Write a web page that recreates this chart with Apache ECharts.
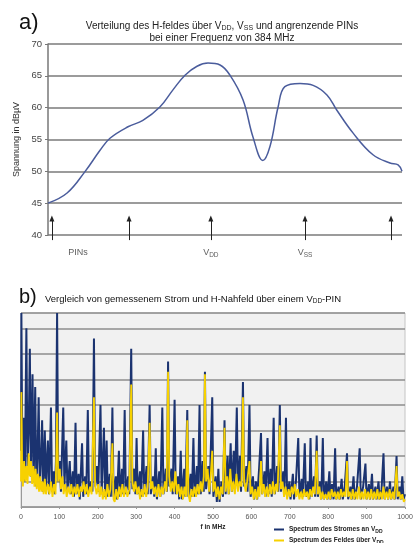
<!DOCTYPE html>
<html>
<head>
<meta charset="utf-8">
<script src="https://cdn.jsdelivr.net/npm/echarts@6/dist/echarts.min.js"></script>
<style>
html,body{margin:0;padding:0;background:#fff;}
#main{width:416px;height:543px;}
</style>
</head>
<body>
<div id="main"></div>
<script>
// a) Feldverteilung: x = Position (0..100), y = Spannung in dBµV
var feldKurve = [
  [0,45],[5.4,46.6],[10.5,50],[14.7,53.3],[17.5,55.2],[22.6,57.0],[26.8,58.0],
  [31.6,60.1],[35.3,62.8],[38.7,65.1],[42.1,66.5],[45.2,67.0],[48.6,66.7],
  [51.4,65.1],[55.1,61.2],[57.9,55.4],[60.7,51.7],[62.7,53.9],[65.0,60.1],
  [66.9,63.3],[71.2,63.8],[74.9,63.5],[78.8,62.0],[81.6,59.6],[86.2,56.0],
  [91.8,52.6],[96.6,51.3],[98.9,51.0],[100,50.0]
];
var pfeilX = [1.1, 22.9, 46.0, 72.6, 96.9];
var pinLabels = [
  {x: 8.5, text: 'PINs'},
  {x: 46.0, text: 'V{s|DD}'},
  {x: 72.6, text: 'V{s|SS}'}
];
var yTicksA = [40, 70, 5];

// b) Spektren: [f in MHz, Pegel]
var stromSpektrum = [
[0,2.2],[1,7.6],[3,3.0],[5,1.2],[8,3.5],[10,1.0],[14,7.0],[17,1.5],[20,3.0],[23,6.2],[26,1.2],[30,5.2],[33,1.0],[37,4.7],[40,0.8],[43,2.0],[46,4.3],[49,0.7],[52,1.8],[55,3.4],[58,0.6],[62,3.0],[65,0.7],[67,1.6],[70,2.6],[73,0.5],[78,3.9],[81,0.6],[85,1.4],[88,0.5],[91,1.8],[94,7.6],[97,1.0],[101,1.8],[104,0.6],[110,3.9],[113,0.8],[118,2.6],[121,0.6],[124,1.2],[127,1.8],[130,0.5],[135,1.4],[138,0.4],[142,3.3],[145,0.5],[150,1.3],[153,0.3],[159,2.5],[162,0.4],[167,1.2],[170,0.5],[174,3.8],[177,0.6],[183,1.0],[186,0.6],[190,6.6],[193,0.8],[198,1.6],[201,0.6],[207,4.0],[210,0.5],[216,3.1],[219,0.4],[223,2.6],[226,0.4],[231,1.3],[234,0.4],[238,3.9],[241,0.4],[247,1.2],[250,0.3],[255,2.2],[258,0.4],[263,1.5],[266,0.5],[270,3.8],[273,0.5],[279,1.2],[282,0.5],[287,6.2],[290,0.7],[295,1.5],[298,0.5],[301,2.7],[304,0.5],[310,1.4],[313,0.4],[318,3.0],[321,0.5],[327,1.6],[330,0.5],[335,4.0],[338,0.5],[344,1.2],[347,0.4],[351,2.3],[354,0.3],[360,1.4],[363,0.4],[368,3.9],[371,0.5],[377,1.5],[380,0.6],[383,5.7],[386,0.8],[392,1.5],[395,0.5],[400,4.2],[403,0.5],[409,1.2],[412,0.3],[416,2.2],[419,0.3],[425,1.5],[428,0.4],[433,3.8],[436,0.4],[442,1.3],[445,0.4],[449,2.7],[452,0.4],[458,1.6],[461,0.5],[465,4.0],[468,0.5],[473,1.8],[476,0.6],[479,5.3],[482,0.7],[488,1.6],[491,0.5],[498,4.3],[501,0.4],[507,1.2],[510,0.2],[514,1.5],[517,0.2],[522,1.0],[526,0.4],[530,3.4],[533,0.5],[538,2.0],[541,0.5],[546,2.5],[549,0.6],[554,2.2],[557,0.6],[562,3.9],[565,0.7],[570,2.0],[573,0.6],[578,4.9],[581,0.8],[587,1.6],[590,0.6],[595,4.0],[598,0.4],[604,1.2],[607,0.3],[612,1.0],[615,0.3],[620,1.5],[625,2.9],[628,0.5],[634,1.4],[637,0.4],[642,2.7],[645,0.5],[650,1.5],[653,0.4],[658,3.5],[661,0.5],[667,1.6],[670,0.6],[674,4.0],[677,0.6],[683,1.4],[686,0.5],[690,3.5],[693,0.4],[699,1.0],[702,0.3],[708,1.3],[711,0.3],[716,1.0],[722,2.7],[725,0.4],[731,1.1],[734,0.4],[739,2.5],[742,0.4],[748,1.0],[751,0.3],[754,2.7],[757,0.4],[763,1.2],[766,0.4],[770,2.8],[773,0.4],[779,1.0],[782,0.3],[786,2.7],[789,0.3],[795,1.0],[798,0.3],[803,1.4],[806,0.3],[810,0.9],[814,0.3],[818,2.3],[821,0.3],[827,0.8],[830,0.3],[835,1.1],[838,0.3],[843,0.8],[849,2.1],[852,0.3],[858,0.8],[861,0.3],[866,1.2],[869,0.3],[875,0.8],[882,2.3],[885,0.3],[891,0.8],[897,1.7],[900,0.3],[906,0.9],[909,0.3],[914,1.3],[917,0.3],[923,0.8],[926,0.3],[931,1.0],[934,0.3],[939,0.7],[944,2.1],[947,0.3],[953,0.8],[956,0.3],[961,1.0],[964,0.3],[970,0.8],[973,0.3],[978,2.0],[981,0.3],[986,0.8],[989,0.3],[993,1.2],[996,0.3],[1000,0.5]
];
var feldSpektrum = [
[0,1.0],[1,4.5],[3,1.5],[5,0.8],[8,1.8],[11,1.0],[14,1.6],[17,0.9],[20,2.1],[23,1.2],[26,1.8],[29,0.9],[32,1.6],[35,0.8],[38,1.5],[41,0.7],[44,1.3],[47,0.6],[50,1.2],[53,0.6],[56,1.0],[59,0.5],[62,1.1],[65,0.5],[70,0.9],[74,0.5],[78,1.0],[82,0.4],[86,0.9],[90,0.5],[94,3.7],[97,1.0],[101,1.5],[104,0.7],[108,1.2],[111,0.5],[115,0.9],[119,0.4],[123,0.8],[127,0.5],[131,0.9],[135,0.4],[139,0.8],[143,0.5],[147,0.9],[151,0.4],[155,0.8],[159,0.6],[163,1.0],[167,0.5],[171,0.9],[175,0.4],[180,0.8],[184,0.5],[190,4.3],[193,0.8],[197,0.5],[201,0.9],[205,0.4],[209,0.8],[213,0.3],[217,0.7],[221,0.3],[225,0.9],[229,0.4],[233,0.7],[238,2.5],[241,0.3],[244,0.2],[248,0.7],[252,0.3],[256,0.8],[260,0.4],[264,0.9],[268,0.4],[273,0.8],[277,0.4],[282,0.7],[287,4.8],[290,1.0],[294,0.6],[298,1.0],[302,0.5],[306,0.8],[310,0.3],[314,0.7],[318,0.4],[322,0.9],[326,0.4],[330,0.8],[335,3.3],[338,0.7],[342,1.0],[346,0.5],[350,0.8],[354,0.4],[358,0.9],[362,0.4],[366,0.8],[370,0.5],[375,1.0],[379,0.6],[383,5.3],[386,1.2],[390,0.6],[394,1.0],[398,0.6],[402,1.4],[406,0.5],[410,0.9],[414,0.4],[418,0.8],[422,0.3],[426,0.8],[430,0.4],[433,3.4],[436,0.5],[440,0.2],[444,0.7],[448,0.4],[452,0.8],[456,0.4],[460,0.9],[464,0.5],[468,1.0],[472,0.6],[476,1.2],[479,5.2],[482,1.0],[486,1.5],[490,0.6],[494,1.2],[498,2.2],[501,0.6],[505,1.0],[509,0.4],[513,0.8],[517,0.3],[521,0.8],[525,0.5],[530,3.1],[533,0.6],[537,1.2],[541,0.5],[545,1.5],[549,0.6],[553,1.0],[557,0.5],[561,1.3],[565,0.6],[569,1.0],[574,0.8],[578,4.3],[581,1.0],[585,0.6],[589,1.0],[595,1.8],[598,0.5],[602,0.8],[606,0.3],[610,0.7],[614,0.3],[618,0.8],[621,0.4],[625,1.8],[628,0.5],[632,0.9],[636,0.4],[640,0.8],[644,0.4],[648,0.9],[652,0.5],[656,1.0],[660,0.5],[664,0.9],[668,0.6],[674,3.2],[677,0.7],[681,1.0],[685,0.4],[689,0.8],[693,0.3],[697,0.7],[701,0.4],[705,0.8],[709,0.5],[713,0.9],[717,0.4],[721,0.7],[725,0.3],[729,0.6],[733,0.3],[737,0.7],[741,0.4],[745,0.6],[749,0.3],[753,0.7],[757,0.4],[761,0.8],[765,0.5],[770,2.2],[773,0.5],[777,0.8],[781,0.3],[785,0.6],[789,0.3],[793,0.5],[797,0.3],[801,0.6],[805,0.3],[809,0.7],[813,0.4],[817,0.6],[821,0.3],[825,0.6],[829,0.3],[833,0.7],[837,0.4],[841,0.6],[845,0.4],[849,1.8],[852,0.4],[856,0.6],[860,0.3],[864,0.7],[868,0.3],[872,0.6],[876,0.3],[880,0.8],[884,0.3],[888,0.6],[892,0.3],[896,0.7],[900,0.3],[904,0.6],[908,0.3],[912,0.7],[916,0.3],[920,0.6],[924,0.3],[928,0.7],[932,0.3],[936,0.6],[940,0.3],[944,0.8],[948,0.3],[952,0.6],[956,0.3],[960,0.7],[964,0.3],[968,0.6],[972,0.3],[978,1.6],[981,0.4],[985,0.6],[989,0.3],[993,0.5],[997,0.2],[1000,0.3]
];
var fTicks = [0, 1000, 100];
var legendNames = ['Spectrum des Stromes an V{s|DD}', 'Spectrum des Feldes über V{s|DD}'];

var subB = {s: {fontSize: 5, fontWeight: 'bold', padding: [4, 0, 0, 0]}};
var legendText = {fontSize: 6.5, fontWeight: 'bold', color: '#222', fontFamily: 'Liberation Sans', rich: subB};

var myChart = echarts.init(document.getElementById('main'));
var option = {
  backgroundColor: '#fff',
  animation: false,
  title: [
    {text: 'a)', left: 14, top: 7, textStyle: {fontSize: 22, fontWeight: 'normal', color: '#111', fontFamily: 'Liberation Sans'}},
    {text: 'Verteilung des H-feldes über V{s|DD}, V{s|SS} und angrenzende PINs\nbei einer Frequenz von 384 MHz',
     left: 217, top: 15, textAlign: 'center',
     textStyle: {fontSize: 10, fontWeight: 'normal', color: '#222', fontFamily: 'Liberation Sans', lineHeight: 12,
       rich: {s: {fontSize: 7, padding: [5, 0, 0, 0], color: '#222'}}}},
    {text: 'b)', left: 14, top: 282, textStyle: {fontSize: 20, fontWeight: 'normal', color: '#111', fontFamily: 'Liberation Sans'}},
    {text: 'Vergleich von gemessenem Strom und H-Nahfeld über einem V{s|DD}-PIN',
     left: 40, top: 288,
     textStyle: {fontSize: 9.5, fontWeight: 'normal', color: '#111', fontFamily: 'Liberation Sans',
       rich: {s: {fontSize: 6.5, padding: [5, 0, 0, 0], color: '#111'}}}}
  ],
  legend: [
    {data: ['strom'], left: 274, top: 526, padding: 0, itemWidth: 10, itemHeight: 2, icon: 'rect',
     formatter: function () { return legendNames[0]; }, textStyle: legendText},
    {data: ['feld'], left: 274, top: 537, padding: 0, itemWidth: 10, itemHeight: 2, icon: 'rect',
     formatter: function () { return legendNames[1]; }, textStyle: legendText}
  ],
  grid: [
    {left: 48, top: 44, width: 354, height: 191},
    {left: 21, top: 313, width: 384, height: 194, show: true, backgroundColor: '#f1f1f1', borderColor: '#c4c4c4', borderWidth: 1},
    // Hilfsraster für Pfeile und Beschriftung unter Diagramm a (gleiche Skala, 36..70)
    {left: 48, top: 44, width: 354, height: 216.47}
  ],
  xAxis: [
    {gridIndex: 0, type: 'value', min: 0, max: 100, show: false},
    {gridIndex: 1, type: 'value', min: fTicks[0], max: fTicks[1], interval: fTicks[2],
     name: 'f in MHz', nameLocation: 'middle', nameGap: 17,
     nameTextStyle: {fontSize: 6.5, fontWeight: 'bold', color: '#222', fontFamily: 'Liberation Sans'},
     axisLine: {lineStyle: {color: '#999'}}, axisTick: {show: true, length: 2, lineStyle: {color: '#999'}},
     axisLabel: {fontSize: 7, color: '#555', margin: 7, fontFamily: 'Liberation Sans',
       formatter: function (v) { return String(v); }},
     splitLine: {show: false}},
    {gridIndex: 2, type: 'value', min: 0, max: 100, show: false}
  ],
  yAxis: [
    {gridIndex: 0, type: 'value', min: yTicksA[0], max: yTicksA[1], interval: yTicksA[2],
     name: 'Spannung in dBµV', nameLocation: 'middle', nameGap: 20,
     nameTextStyle: {fontSize: 9, color: '#333', fontFamily: 'Liberation Sans'},
     axisLine: {show: true, lineStyle: {color: '#777', width: 1.5}},
     axisTick: {show: true, length: 3, lineStyle: {color: '#777'}},
     axisLabel: {fontSize: 9.5, color: '#444', margin: 6, fontFamily: 'Liberation Sans'},
     splitLine: {lineStyle: {color: '#9b9b9b', width: 2}}},
    {gridIndex: 1, type: 'value', min: 0, max: 7.6, interval: 1,
     axisLabel: {show: false}, axisTick: {show: false},
     axisLine: {show: true, lineStyle: {color: '#999'}},
     splitLine: {lineStyle: {color: '#8c8c8c', width: 1.5}}},
    {gridIndex: 2, type: 'value', min: 36, max: 70, show: false}
  ],
  series: [
    {type: 'line', xAxisIndex: 0, yAxisIndex: 0, data: feldKurve, smooth: 0.4, showSymbol: false, clip: false,
     lineStyle: {color: '#4a5c9c', width: 1.5}},
    {type: 'scatter', xAxisIndex: 2, yAxisIndex: 2, silent: true, symbolSize: 0,
     data: pinLabels.map(function (p) { return {name: p.text, value: [p.x, 37.2]}; }),
     label: {show: true, position: 'inside', fontSize: 9, color: '#333', fontFamily: 'Liberation Sans',
       formatter: '{b}', rich: {s: {fontSize: 6.5, padding: [5, 0, 0, 0], color: '#333'}}},
     markLine: {
       silent: true, symbol: ['none', 'triangle'], symbolSize: [5, 6],
       lineStyle: {color: '#222', width: 1, type: 'solid'}, label: {show: false},
       data: pfeilX.map(function (x) { return [{coord: [x, 39.2]}, {coord: [x, 42.6]}]; })
     }},
    {name: 'strom', type: 'line', xAxisIndex: 1, yAxisIndex: 1, data: stromSpektrum, showSymbol: false,
     color: '#1b3370', lineStyle: {color: '#1b3370', width: 2}},
    {name: 'feld', type: 'line', xAxisIndex: 1, yAxisIndex: 1, data: feldSpektrum, showSymbol: false,
     color: '#f7d100', lineStyle: {color: '#f7d100', width: 1.8}}
  ]
};
myChart.setOption(option);
</script>
</body>
</html>
